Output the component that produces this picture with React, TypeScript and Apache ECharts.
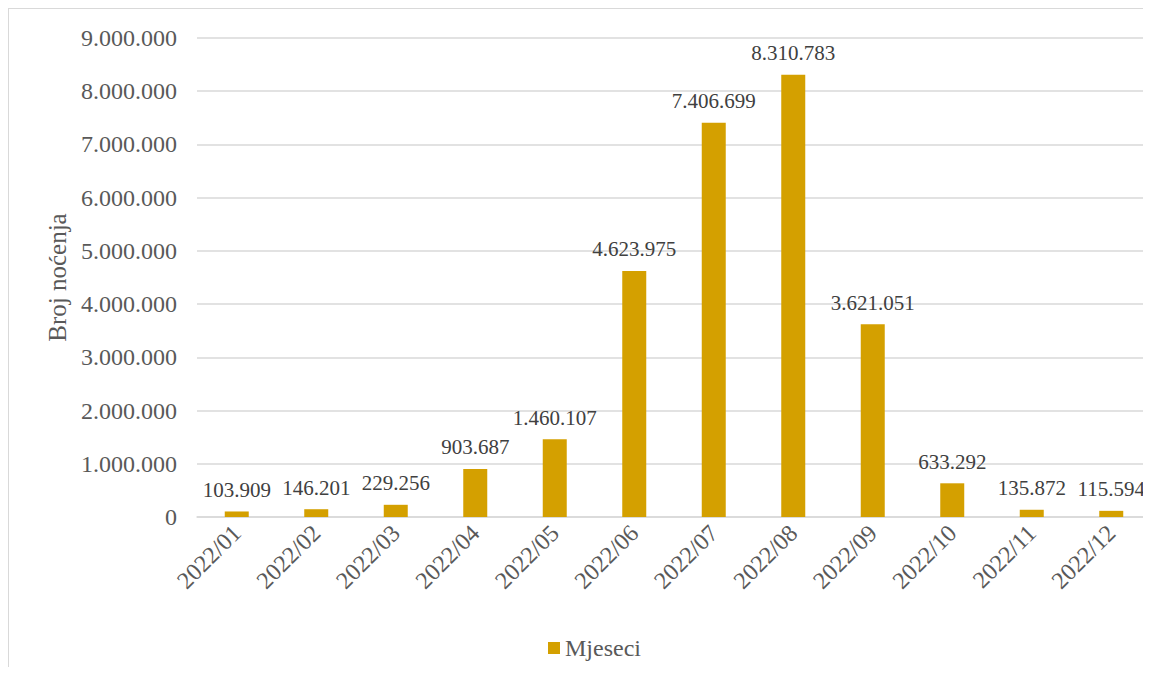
import React, { useEffect, useRef } from "react";
import * as echarts from "echarts";

const categories = [
  "2022/01", "2022/02", "2022/03", "2022/04", "2022/05", "2022/06",
  "2022/07", "2022/08", "2022/09", "2022/10", "2022/11", "2022/12",
];
const values = [
  103909, 146201, 229256, 903687, 1460107, 4623975,
  7406699, 8310783, 3621051, 633292, 135872, 115594,
];
const seriesName = "Mjeseci";
const yAxisName = "Broj noćenja";

const FONT = "serif";

const fmt = (v: number) => String(Math.round(v)).replace(/\B(?=(\d{3})+(?!\d))/g, ".");

export default function App() {
  const ref = useRef<HTMLDivElement>(null);
  useEffect(() => {
    document.documentElement.style.overflow = "hidden";
    document.body.style.overflow = "hidden";
    if (!ref.current) return;
    const chart = echarts.init(ref.current, undefined, { renderer: "svg" });
    chart.setOption({
      animation: false,
      textStyle: { fontFamily: FONT },
      grid: { left: 188, top: 29, bottom: 150, right: -5, containLabel: false },
      legend: {
        data: [seriesName],
        left: 534,
        top: 622,
        icon: "rect",
        itemWidth: 12,
        itemHeight: 12,
        itemGap: 5,
        textStyle: { fontFamily: FONT, fontSize: 24, color: "#595959" },
      },
      xAxis: {
        type: "category",
        data: categories,
        axisTick: { show: false },
        axisLine: { lineStyle: { color: "#d9d9d9", width: 1.5 } },
        axisLabel: {
          rotate: 45,
          interval: 0,
          margin: 12,
          fontFamily: FONT,
          fontSize: 24,
          color: "#595959",
        },
      },
      yAxis: {
        type: "value",
        min: 0,
        max: 9000000,
        interval: 1000000,
        name: yAxisName,
        nameLocation: "middle",
        nameGap: 126,
        nameRotate: 90,
        nameTextStyle: { fontFamily: FONT, fontSize: 25, color: "#595959" },
        axisLine: { show: false },
        axisTick: { show: false },
        splitLine: { lineStyle: { color: "#d9d9d9", width: 1.5 } },
        axisLabel: {
          formatter: (v: number) => fmt(v),
          margin: 20,
          fontFamily: FONT,
          fontSize: 24,
          color: "#595959",
        },
      },
      series: [
        {
          name: seriesName,
          type: "bar",
          data: values,
          barWidth: 24,
          itemStyle: { color: "#D4A000" },
          label: {
            show: true,
            position: "top",
            distance: 11,
            formatter: (p: any) => fmt(p.value),
            fontFamily: FONT,
            fontSize: 21,
            color: "#404040",
          },
        },
      ],
    });
    return () => chart.dispose();
  }, []);
  return (
    <div
      ref={ref}
      style={{
        width: 1142,
        height: 658,
        borderTop: "1px solid #d9d9d9",
        borderLeft: "1px solid #d9d9d9",
        overflow: "hidden",
      }}
    />
  );
}
